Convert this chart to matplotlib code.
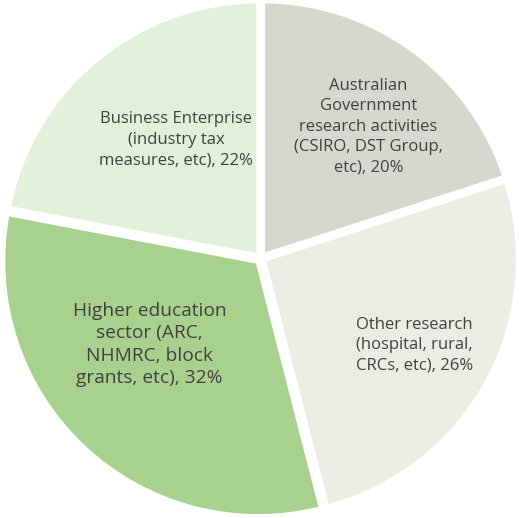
import numpy as np
import matplotlib.pyplot as plt

labels = ["Australian\nGovernment\nresearch activities\n(CSIRO, DST Group,\netc), 20%",
          "Other research\n(hospital, rural,\nCRCs, etc), 26%",
          "Higher education\nsector (ARC,\nNHMRC, block\ngrants, etc), 32%",
          "Business Enterprise\n(industry tax\nmeasures, etc), 22%"]
shares = [20, 26, 32, 22]
colors = ["#d6d8d0", "#ebede4", "#a9d18e", "#e2efd9"]
# label placement: distance from centre and angle shift from the wedge middle
label_r = [0.665, 0.69, 0.55, 0.57]
label_shift = [-3.3, -0.7, -9.0, -4.0]
label_size = [12, 12, 13.8, 12]
label_ls = [1.38, 1.38, 1.32, 1.38]

plt.rcParams['font.family'] = ['Open Sans', 'DejaVu Sans']

fig = plt.figure(figsize=(5.19, 5.18), dpi=100)
ax = fig.add_axes([0, 0, 1, 1])

wedges, _ = ax.pie(shares, colors=colors, startangle=90, counterclock=False,
                   radius=1.0, explode=[0.01, 0.01, 0.015, 0.01],
                   wedgeprops=dict(edgecolor="white", linewidth=4))

for w, lab, r, sh, fs, ls in zip(wedges, labels, label_r, label_shift, label_size, label_ls):
    ang = np.deg2rad((w.theta1 + w.theta2) / 2 + sh)
    ax.text(r * np.cos(ang), r * np.sin(ang), lab, ha="center", va="center",
            fontsize=fs, color="#404040", linespacing=ls)

ax.set_xlim(-1.02, 1.01)
ax.set_ylim(-1.015, 1.01)
ax.set_aspect("equal")
ax.axis("off")

fig.savefig("out.png", dpi=100, facecolor="white")
